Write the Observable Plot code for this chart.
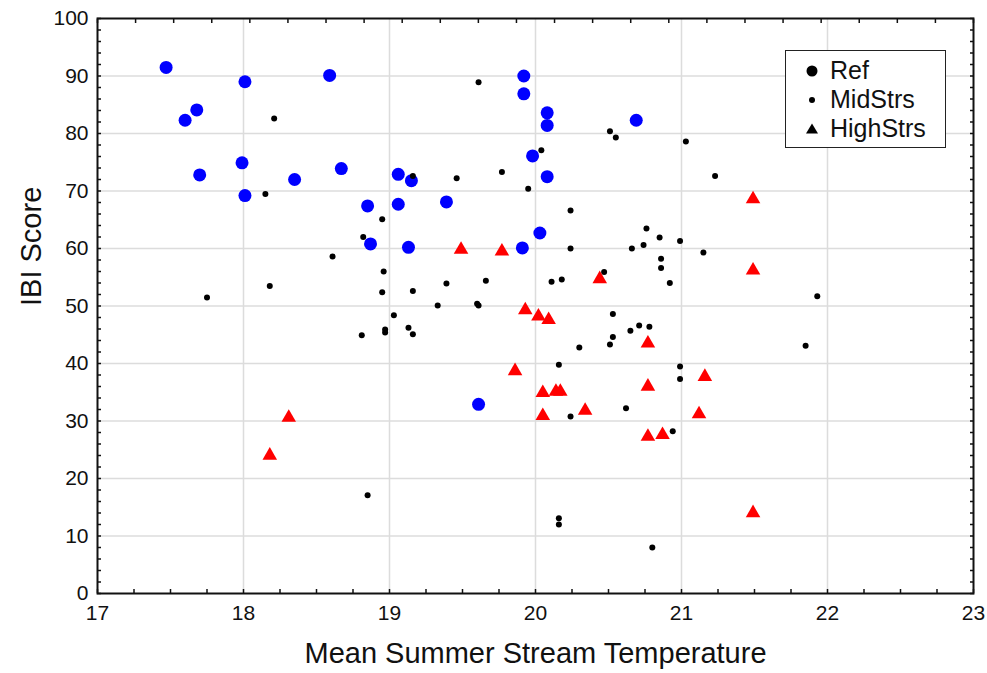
<!DOCTYPE html>
<html>
<head>
<meta charset="utf-8">
<script src="https://cdn.jsdelivr.net/npm/d3@7"></script>
<script src="https://cdn.jsdelivr.net/npm/@observablehq/plot@0.6"></script>
<style>
  html, body { margin: 0; padding: 0; background: #fff; }
  #wrap { position: relative; width: 987px; height: 673px; font-family: "Liberation Sans", Arial, sans-serif; }
  #legend { position: absolute; left: 785px; top: 50px; width: 159px; height: 96px; border: 1.5px solid #222; background: #fff; }
  #legend .row { position: absolute; left: 0; height: 29px; font-size: 25px; color: #111; line-height: 29px; }
  #legend svg { position: absolute; left: 18px; top: 7px; }
  #legend span { position: absolute; left: 44px; top: 0; white-space: nowrap; }
</style>
</head>
<body>
<div id="wrap"></div>
<script>
// Reference sites (blue circles)
const refX = [17.47, 17.60, 17.68, 17.70, 18.01, 17.99, 18.01, 18.35, 18.59, 18.67, 18.85, 18.87, 19.06, 19.06, 19.15, 19.13, 19.39, 19.61, 19.92, 19.92, 20.08, 20.08, 19.98, 20.08, 20.03, 19.91, 20.69];
const refY = [91.5, 82.3, 84.1, 72.8, 89.0, 74.9, 69.2, 72.0, 90.1, 73.9, 67.4, 60.8, 72.9, 67.7, 71.8, 60.2, 68.1, 32.9, 90.0, 86.9, 83.6, 81.4, 76.1, 72.5, 62.7, 60.1, 82.3];
// Mid-stressed sites (small black dots)
const midX = [18.21, 18.15, 18.95, 18.82, 18.61, 18.96, 18.18, 18.95, 17.75, 19.16, 18.81, 18.97, 18.97, 19.03, 19.13, 18.85,
  19.61, 20.51, 20.55, 21.03, 20.04, 19.16, 19.46, 19.77, 19.95, 21.23, 20.24, 20.76, 20.85, 20.99, 20.24, 20.66, 20.74, 21.15,
  20.86, 20.86, 20.47, 20.11, 20.18, 20.92, 19.39, 19.66, 19.33, 19.60, 19.61, 21.93, 19.16, 20.53, 20.65, 20.71, 20.78, 20.53,
  20.51, 20.30, 20.16, 20.99, 20.99, 20.62, 20.24, 20.94, 20.16, 20.16, 20.80, 21.85];
const midY = [82.6, 69.5, 65.1, 62.0, 58.6, 56.0, 53.5, 52.4, 51.5, 52.6, 44.9, 45.9, 45.4, 48.4, 46.2, 17.1,
  88.9, 80.4, 79.3, 78.6, 77.1, 72.6, 72.2, 73.3, 70.4, 72.6, 66.6, 63.5, 61.9, 61.3, 60.0, 60.0, 60.6, 59.3,
  58.2, 56.6, 55.9, 54.2, 54.6, 54.0, 53.9, 54.4, 50.1, 50.4, 50.1, 51.7, 45.1, 48.6, 45.7, 46.6, 46.4, 44.6,
  43.3, 42.8, 39.8, 39.5, 37.3, 32.2, 30.8, 28.2, 13.1, 12.0, 8.0, 43.1];
// High-stressed sites (red triangles)
const highX = [18.18, 18.31, 19.49, 19.77, 19.93, 20.02, 20.09, 19.86, 20.05, 20.14, 20.17, 20.05, 20.34, 20.44, 20.77, 20.77, 20.77, 20.87, 21.12, 21.16, 21.49, 21.49, 21.49];
const highY = [24.0, 30.6, 59.8, 59.5, 49.3, 48.2, 47.6, 38.7, 34.9, 35.1, 35.1, 30.9, 31.8, 54.7, 43.5, 36.0, 27.3, 27.6, 31.2, 37.7, 68.6, 56.2, 14.0];

const groups = ["Ref", "MidStrs", "HighStrs"];
const xMajor = [17, 18, 19, 20, 21, 22, 23];
const yMajor = [0, 10, 20, 30, 40, 50, 60, 70, 80, 90, 100];
const xLabel = "Mean Summer Stream Temperature";
const yLabel = "IBI Score";

const ref = refX.map((x, i) => ({x, y: refY[i], g: groups[0]}));
const mid = midX.map((x, i) => ({x, y: midY[i], g: groups[1]}));
const high = highX.map((x, i) => ({x, y: highY[i], g: groups[2]}));

const xMinor = d3.range(17, 23.0001, 0.25);
const yMinor = d3.range(0, 100.0001, 2);
const xTop = d3.range(24).map(k => 17 + k * 6 / 23);
const fmt = d3.format("d");

const chart = Plot.plot({
  width: 987,
  height: 673,
  marginLeft: 97,
  marginRight: 14,
  marginTop: 18,
  marginBottom: 80,
  style: {fontFamily: "Liberation Sans, Arial, sans-serif", background: "#fff", color: "#111"},
  x: {domain: [17, 23]},
  y: {domain: [0, 100]},
  marks: [
    Plot.gridX(xMajor.slice(1, -1), {stroke: "#dcdcdc", strokeOpacity: 1, strokeWidth: 1.5}),
    Plot.gridY(yMajor.slice(1, -1), {stroke: "#dcdcdc", strokeOpacity: 1, strokeWidth: 1.5}),
    Plot.axisX(xMajor, {anchor: "bottom", tickSize: 0, tickPadding: 12, fontSize: 21, tickFormat: fmt, label: null}),
    Plot.axisY(yMajor, {anchor: "left", tickSize: 0, tickPadding: 9, fontSize: 21, tickFormat: fmt, label: null}),
    Plot.axisX(xMinor, {anchor: "bottom", tickSize: -4, strokeWidth: 1.5, fill: "none", label: null}),
    Plot.axisX(xTop, {anchor: "top", tickSize: -4, strokeWidth: 1.5, fill: "none", label: null}),
    Plot.axisY(yMinor, {anchor: "left", tickSize: -4, strokeWidth: 1.5, fill: "none", label: null}),
    Plot.axisY(yMinor, {anchor: "right", tickSize: -4, strokeWidth: 1.5, fill: "none", label: null}),
    Plot.dot(ref, {x: "x", y: "y", r: 6.5, fill: "#0000ff", stroke: "none"}),
    Plot.dot(mid, {x: "x", y: "y", r: 3, fill: "#000", stroke: "none"}),
    Plot.dot(high, {x: "x", y: "y", r: 5.4, symbol: "triangle", fill: "#ff0000", stroke: "none"}),
    Plot.frame({stroke: "#111", strokeWidth: 2}),
    Plot.text([xLabel], {frameAnchor: "bottom", dy: 69, fontSize: 29, fill: "#111"}),
    Plot.text([yLabel], {frameAnchor: "left", dx: -66, rotate: -90, fontSize: 29, fill: "#111"})
  ]
});

const wrap = document.getElementById("wrap");
wrap.appendChild(chart);

// Legend (shape legend, black markers)
const legend = document.createElement("div");
legend.id = "legend";
const sym = {
  Ref: '<circle cx="8" cy="8" r="5.5" fill="#000"/>',
  MidStrs: '<circle cx="8" cy="8" r="3" fill="#000"/>',
  HighStrs: '<path d="M8,2.5L14,12.5L2,12.5Z" fill="#000"/>'
};
groups.forEach((g, i) => {
  const row = document.createElement("div");
  row.className = "row";
  row.style.top = (5 + i * 29) + "px";
  row.innerHTML = `<svg width="16" height="16">${sym[g]}</svg><span>${g}</span>`;
  legend.appendChild(row);
});
wrap.appendChild(legend);
</script>
</body>
</html>
